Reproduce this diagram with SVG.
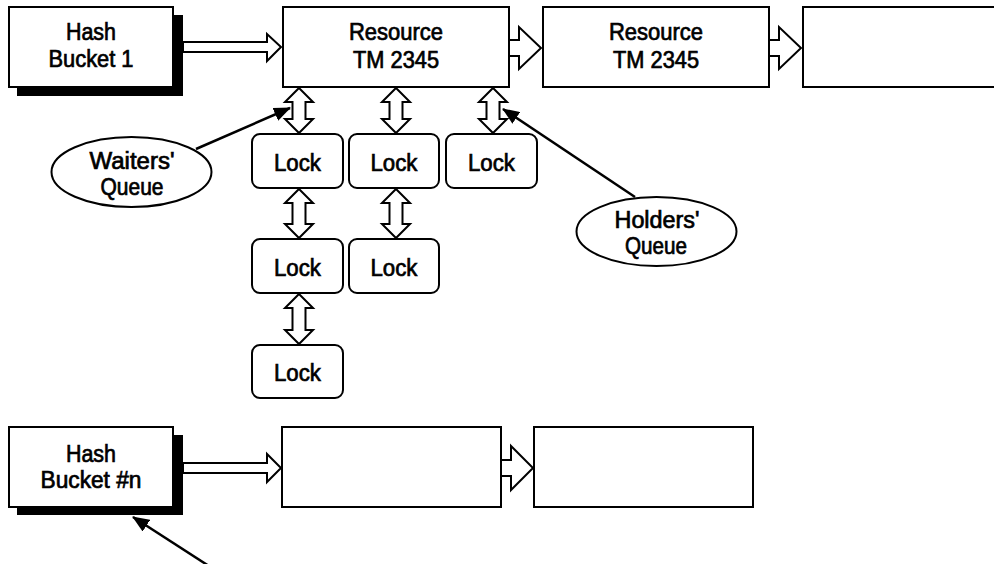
<svg xmlns="http://www.w3.org/2000/svg" width="994" height="564" viewBox="0 0 994 564">
  <style>
    .box { fill: #fff; stroke: #000; stroke-width: 2; }
    .shadow { fill: #000; }
    .lock { fill: #fff; stroke: #000; stroke-width: 2; }
    .oval { fill: #fff; stroke: #000; stroke-width: 2; }
    .block { fill: #fff; stroke: #000; stroke-width: 2; stroke-linejoin: miter; }
    .ptr { fill: none; stroke: #000; stroke-width: 2.5; marker-end: url(#head); }
    text { font-family: "Liberation Sans", Arial, sans-serif; font-size: 23px; fill: #000; stroke: #000; stroke-width: 0.7; text-anchor: middle; }
  </style>
  <defs>
    <marker id="head" markerUnits="userSpaceOnUse" markerWidth="18" markerHeight="14" refX="16" refY="7" orient="auto">
      <path d="M0,0 L17,7 L0,14 Z" fill="#000"/>
    </marker>
  </defs>

  <rect width="994" height="564" fill="#fff"/>

  <!-- hash bucket chain 1 -->
  <g id="bucket1">
    <rect class="shadow" x="17" y="15" width="166" height="81"/>
    <rect class="box" x="9" y="7" width="164" height="80"/>
    <text x="91" y="40" textLength="50" lengthAdjust="spacingAndGlyphs">Hash</text>
    <text x="91" y="67" textLength="85" lengthAdjust="spacingAndGlyphs">Bucket 1</text>
  </g>
  <g id="resource1">
    <rect class="box" x="283" y="7" width="226" height="80"/>
    <text x="396" y="40" textLength="94" lengthAdjust="spacingAndGlyphs">Resource</text>
    <text x="396" y="68" textLength="86" lengthAdjust="spacingAndGlyphs">TM 2345</text>
  </g>
  <g id="resource2">
    <rect class="box" x="543" y="7" width="226" height="80"/>
    <text x="656" y="40" textLength="94" lengthAdjust="spacingAndGlyphs">Resource</text>
    <text x="656" y="68" textLength="86" lengthAdjust="spacingAndGlyphs">TM 2345</text>
  </g>
  <g id="resource3">
    <rect class="box" x="803" y="7" width="200" height="80"/>
  </g>

  <!-- lock entries -->
  <g id="lock-w1">
    <rect class="lock" x="252" y="134" width="91" height="54" rx="8"/>
    <text x="297.5" y="171" textLength="47" lengthAdjust="spacingAndGlyphs">Lock</text>
  </g>
  <g id="lock-w2">
    <rect class="lock" x="252" y="239" width="91" height="54" rx="8"/>
    <text x="297.5" y="276" textLength="47" lengthAdjust="spacingAndGlyphs">Lock</text>
  </g>
  <g id="lock-w3">
    <rect class="lock" x="252" y="345" width="91" height="53" rx="8"/>
    <text x="297.5" y="381" textLength="47" lengthAdjust="spacingAndGlyphs">Lock</text>
  </g>
  <g id="lock-c1">
    <rect class="lock" x="349" y="134" width="90" height="54" rx="8"/>
    <text x="394" y="171" textLength="47" lengthAdjust="spacingAndGlyphs">Lock</text>
  </g>
  <g id="lock-c2">
    <rect class="lock" x="349" y="239" width="90" height="54" rx="8"/>
    <text x="394" y="276" textLength="47" lengthAdjust="spacingAndGlyphs">Lock</text>
  </g>
  <g id="lock-h1">
    <rect class="lock" x="446" y="134" width="91" height="54" rx="8"/>
    <text x="491.5" y="171" textLength="47" lengthAdjust="spacingAndGlyphs">Lock</text>
  </g>

  <!-- queue labels -->
  <g id="waiters-queue">
    <ellipse class="oval" cx="131.5" cy="172" rx="80" ry="35"/>
    <text x="132" y="169" textLength="85" lengthAdjust="spacingAndGlyphs">Waiters'</text>
    <text x="132" y="195" textLength="63" lengthAdjust="spacingAndGlyphs">Queue</text>
  </g>
  <g id="holders-queue">
    <ellipse class="oval" cx="656.5" cy="231.5" rx="80" ry="34.5"/>
    <text x="657" y="228" textLength="85" lengthAdjust="spacingAndGlyphs">Holders'</text>
    <text x="656" y="254" textLength="62" lengthAdjust="spacingAndGlyphs">Queue</text>
  </g>

  <!-- hash bucket chain n -->
  <g id="bucketn">
    <rect class="shadow" x="17" y="435" width="166" height="80"/>
    <rect class="box" x="9" y="427" width="164" height="80"/>
    <text x="91" y="462" textLength="50" lengthAdjust="spacingAndGlyphs">Hash</text>
    <text x="91" y="488" textLength="101" lengthAdjust="spacingAndGlyphs">Bucket #n</text>
  </g>
  <g id="resourcen1">
    <rect class="box" x="282" y="427" width="219" height="80"/>
  </g>
  <g id="resourcen2">
    <rect class="box" x="534" y="427" width="219" height="80"/>
  </g>

  <!-- connectors -->
  <g id="connectors">
    <!-- chain links -->
    <polygon class="block" points="183,42 267,42 267,34 281,47 267,61 267,52 183,52"/>
    <polygon class="block" points="509,40 519,40 519,27 541,48 519,69 519,56 509,56"/>
    <polygon class="block" points="769,40 779,40 779,27 801,48 779,69 779,56 769,56"/>
    <polygon class="block" points="183,463 267,463 267,454 281,468 267,482 267,473 183,473"/>
    <polygon class="block" points="501,460 511,460 511,446 533,468 511,490 511,476 501,476"/>

    <!-- queue links (double-headed) -->
    <polygon class="block" points="299,88 313,102 305.5,102 305.5,119 313,119 299,133 285,119 292.5,119 292.5,102 285,102"/>
    <polygon class="block" points="299,189 313,203 305.5,203 305.5,224 313,224 299,238 285,224 292.5,224 292.5,203 285,203"/>
    <polygon class="block" points="299,294 313,308 305.5,308 305.5,330 313,330 299,344 285,330 292.5,330 292.5,308 285,308"/>
    <polygon class="block" points="396,88 410,102 402.5,102 402.5,119 410,119 396,133 382,119 389.5,119 389.5,102 382,102"/>
    <polygon class="block" points="396,189 410,203 402.5,203 402.5,224 410,224 396,238 382,224 389.5,224 389.5,203 382,203"/>
    <polygon class="block" points="493,88 507,102 499.5,102 499.5,119 507,119 493,133 479,119 486.5,119 486.5,102 479,102"/>

    <!-- pointers -->
    <line class="ptr" x1="196" y1="149" x2="290" y2="108"/>
    <line class="ptr" x1="635" y1="197" x2="503" y2="109"/>
    <line class="ptr" x1="212" y1="568" x2="133" y2="517"/>
  </g>
</svg>
